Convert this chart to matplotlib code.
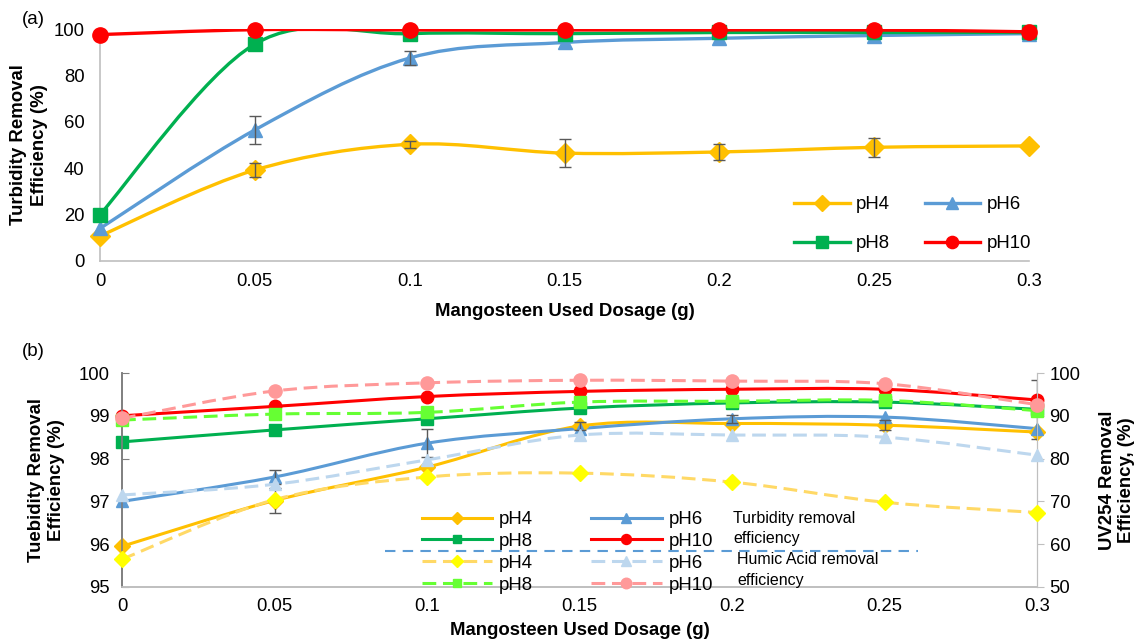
import matplotlib
matplotlib.use("Agg")
import matplotlib.pyplot as plt
from matplotlib.path import Path
from matplotlib.patches import PathPatch
from matplotlib.lines import Line2D

plt.rcParams['font.family'] = ['Liberation Sans', 'DejaVu Sans']

dose = [0, 0.05, 0.1, 0.15, 0.2, 0.25, 0.3]
dose_ticks = ['0', '0.05', '0.1', '0.15', '0.2', '0.25', '0.3']

# panel (a) - turbidity removal (%)
a_ph4 = [10.8, 39.2, 50.3, 46.5, 47.0, 49.0, 49.6]
a_ph6 = [14.0, 56.5, 87.5, 94.2, 96.0, 97.2, 98.0]
a_ph8 = [20.0, 93.5, 98.0, 98.0, 98.5, 98.5, 98.5]
a_ph10 = [97.6, 99.7, 99.6, 99.6, 99.6, 99.6, 98.8]
a_ph4_err = [0, 3.0, 1.5, 6.0, 3.5, 4.0, 0]
a_ph6_err = [0, 6.0, 3.0, 0, 0, 0, 0]

# panel (b) - turbidity removal (%) left axis
b_ph4 = [95.95, 97.02, 97.8, 98.76, 98.82, 98.78, 98.62]
b_ph6 = [97.0, 97.57, 98.36, 98.7, 98.93, 98.97, 98.7]
b_ph8 = [98.39, 98.67, 98.93, 99.18, 99.3, 99.32, 99.15]
b_ph10 = [99.0, 99.22, 99.45, 99.57, 99.62, 99.62, 99.37]
b_ph4_err = [0, 0.3, 0, 0.1, 0, 0.12, 0]
b_ph6_err = [0, 0.16, 0.32, 0, 0.1, 0, 0]
b_ph8_err = [0, 0, 0, 0, 0, 0, 0.69]

# panel (b) - humic acid (UV254) removal (%) right axis
u_ph4 = [56.5, 70.4, 75.7, 76.6, 74.5, 69.8, 67.4]
u_ph6 = [71.5, 74.0, 79.7, 85.5, 85.5, 85.0, 80.8]
u_ph8 = [89.0, 90.4, 90.8, 93.2, 93.4, 93.6, 91.2]
u_ph10 = [89.4, 95.8, 97.7, 98.3, 98.1, 97.5, 92.6]

C4, C6, C8, C10 = '#FFC000', '#5B9BD5', '#00B050', '#FF0000'
L4, L6, L8, L10 = '#FFD966', '#BDD7EE', '#66FF33', '#FF9999'
M4 = '#FFFF00'
ERR = '#595959'
SPINE = '#BFBFBF'
FS = 13.3


def smooth(x, y):
    # Excel style smoothed line (cubic bezier through points)
    verts = [(x[0], y[0])]
    codes = [Path.MOVETO]
    n = len(x)
    for i in range(n - 1):
        a = max(i - 1, 0)
        b = min(i + 2, n - 1)
        c1 = (x[i] + (x[i + 1] - x[a]) / 6, y[i] + (y[i + 1] - y[a]) / 6)
        c2 = (x[i + 1] - (x[b] - x[i]) / 6, y[i + 1] - (y[b] - y[i]) / 6)
        verts += [c1, c2, (x[i + 1], y[i + 1])]
        codes += [Path.CURVE4] * 3
    return Path(verts, codes)


def series(ax, y, color, marker, ms, lw, mcolor=None, dashed=False, z=3):
    ls = (0, (4.5, 2.2)) if dashed else '-'
    ax.add_patch(PathPatch(smooth(dose, y), fill=False, edgecolor=color, lw=lw,
                           linestyle=ls, capstyle='butt', zorder=z))
    mc = mcolor or color
    ax.plot(dose, y, linestyle='none', marker=marker, ms=ms, color=mc,
            markeredgecolor=mc, zorder=z + 0.5, clip_on=False)
    return Line2D([], [], color=color, lw=lw, linestyle=ls, marker=marker,
                  ms=ms * 0.8, markerfacecolor=mc, markeredgecolor=mc)


def errs(ax, y, e):
    xs = [d for d, v in zip(dose, e) if v > 0]
    ys = [yy for yy, v in zip(y, e) if v > 0]
    es = [v for v in e if v > 0]
    ax.errorbar(xs, ys, yerr=es, fmt='none', ecolor=ERR, elinewidth=1,
                capsize=4, capthick=1, zorder=6)


fig = plt.figure(figsize=(11.36, 6.42), dpi=100)

# ---------------- panel (a)
ax = fig.add_axes([0.088, 0.5935, 0.818, 0.3613])
h4 = series(ax, a_ph4, C4, 'D', 10, 2.4)
h6 = series(ax, a_ph6, C6, '^', 10, 2.4)
h8 = series(ax, a_ph8, C8, 's', 10, 2.4)
h10 = series(ax, a_ph10, C10, 'o', 11, 2.4)
errs(ax, a_ph4, a_ph4_err)
errs(ax, a_ph6, a_ph6_err)
ax.set_xlim(0, 0.3)
ax.set_ylim(0, 100)
ax.set_xticks(dose)
ax.set_xticklabels(dose_ticks)
ax.set_yticks(range(0, 101, 20))
ax.tick_params(length=0, labelsize=FS, pad=9)
ax.tick_params(axis='y', pad=11)
for s in ['top', 'right']:
    ax.spines[s].set_visible(False)
for s in ['left', 'bottom']:
    ax.spines[s].set_color(SPINE)
    ax.spines[s].set_linewidth(1.2)
ax.set_xlabel('Mangosteen Used Dosage (g)', fontsize=13.4, fontweight='bold', labelpad=9)
ax.set_ylabel('Turbidity Removal\nEfficiency (%)', fontsize=13.4, fontweight='bold',
              labelpad=4, linespacing=1.35)
ax.legend([h4, h8, h6, h10], ['pH4', 'pH8', 'pH6', 'pH10'], ncol=2, frameon=False,
          fontsize=13.4, handlelength=3.0, handletextpad=0.33, columnspacing=1.85,
          labelspacing=1.2, loc='upper left', bbox_to_anchor=(0.729, 0.352))
fig.text(22 / 1136, 1 - 20 / 642, '(a)', fontsize=13.5, va='center')

# ---------------- panel (b)
bx = fig.add_axes([0.1074, 0.0857, 0.8055, 0.3333])
bx2 = bx.twinx()
hs4 = series(bx, b_ph4, C4, 'D', 8, 2.2)
hs6 = series(bx, b_ph6, C6, '^', 8.5, 2.2)
hs8 = series(bx, b_ph8, C8, 's', 8, 2.2)
hs10 = series(bx, b_ph10, C10, 'o', 9, 2.2)
errs(bx, b_ph4, b_ph4_err)
errs(bx, b_ph6, b_ph6_err)
errs(bx, b_ph8, b_ph8_err)
hd4 = series(bx2, u_ph4, L4, 'D', 8, 2.2, mcolor=M4, dashed=True)
hd6 = series(bx2, u_ph6, L6, '^', 8.5, 2.2, dashed=True)
hd8 = series(bx2, u_ph8, L8, 's', 8, 2.2, dashed=True)
hd10 = series(bx2, u_ph10, L10, 'o', 9.5, 2.2, dashed=True)

bx.set_xlim(0, 0.3)
bx.set_ylim(95, 100)
bx2.set_ylim(50, 100)
bx.set_xticks(dose)
bx.set_xticklabels(dose_ticks)
bx.set_yticks(range(95, 101))
bx2.set_yticks(range(50, 101, 10))
bx.tick_params(axis='x', length=0, labelsize=FS, pad=8)
bx.tick_params(axis='y', direction='in', length=5, color='#7F7F7F', labelsize=FS, pad=9)
bx2.tick_params(axis='y', direction='out', length=5, color=SPINE, labelsize=FS, pad=4)
for a in (bx, bx2):
    a.spines['top'].set_visible(False)
    a.spines['bottom'].set_color(SPINE)
    a.spines['bottom'].set_linewidth(1.2)
    a.spines['right'].set_color(SPINE)
    a.spines['left'].set_color('#7F7F7F')
    a.spines['left'].set_linewidth(1.2)
bx.set_xlabel('Mangosteen Used Dosage (g)', fontsize=13.4, fontweight='bold', labelpad=5)
bx.set_ylabel('Tuebidity Removal\nEfficiency (%)', fontsize=13.4, fontweight='bold', labelpad=10)
bx2.set_ylabel('UV254 Removal\nEfficiency, (%)', fontsize=13.4, fontweight='bold', labelpad=13)

handles = [hs4, hs8, hd4, hd8, hs6, hs10, hd6, hd10]
labels = ['pH4', 'pH8', 'pH4', 'pH8', 'pH6', 'pH10', 'pH6', 'pH10']
leg = bx2.legend(handles, labels, ncol=2, frameon=False, fontsize=13.4, handlelength=3.8,
                 handletextpad=0.37, columnspacing=3.1, labelspacing=0.26,
                 loc='upper left', bbox_to_anchor=(0.309, 0.433))
bx2.set_zorder(bx.get_zorder() + 1)
bx.patch.set_visible(True)
bx2.patch.set_visible(False)

fig.add_artist(Line2D([385 / 1136, 918 / 1136], [1 - 551 / 642, 1 - 551 / 642],
                      color=C6, lw=1.5, linestyle=(0, (5, 3.5))))
fig.text(733 / 1136, 1 - 518 / 642, 'Turbidity removal', fontsize=11.5, va='center')
fig.text(733 / 1136, 1 - 539 / 642, 'efficiency', fontsize=11.5, va='center')
fig.text(737 / 1136, 1 - 560 / 642, 'Humic Acid removal', fontsize=11.5, va='center')
fig.text(737 / 1136, 1 - 581 / 642, 'efficiency', fontsize=11.5, va='center')
fig.text(22 / 1136, 1 - 352 / 642, '(b)', fontsize=13.5, va='center')

fig.savefig('out.png', dpi=100)
